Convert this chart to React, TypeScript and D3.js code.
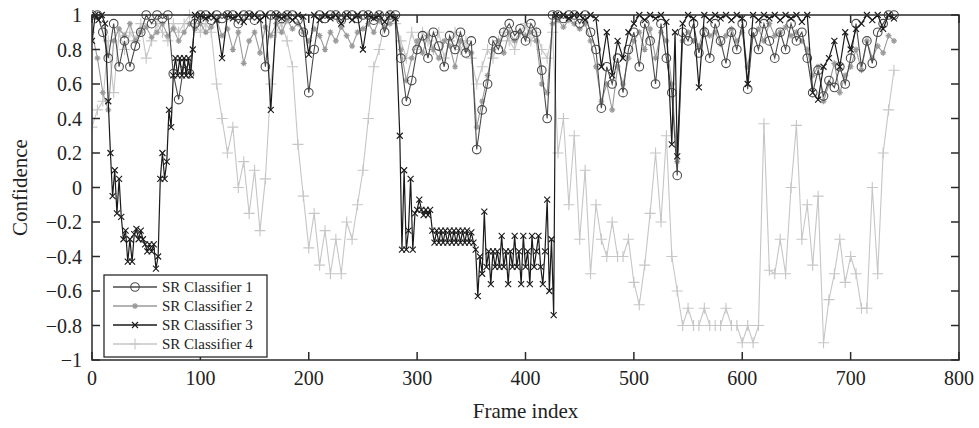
import React from "react";
import * as d3 from "d3";

// Frame indices (sampled every 5 frames) for classifiers 1, 2 and 4
const FRAMES: number[] = d3.range(0, 745, 5);

const S1 = [
  1, 1, 0.9, 0.75, 0.95, 0.7, 0.85, 0.7, 0.82, 0.9,
  1, 0.95, 1, 0.98, 1, 0.66, 0.51, 0.72, 0.66, 0.95,
  1, 1, 0.97, 1, 0.98, 1, 1, 0.95, 1, 1,
  0.97, 1, 0.7, 1, 1, 0.98, 1, 1, 0.97, 0.9,
  0.55, 0.8, 1, 0.98, 1, 1, 0.97, 1, 1, 0.98,
  1, 1, 0.97, 1, 0.9, 1, 1, 0.75, 0.5, 0.62,
  0.8, 0.88, 0.75, 0.9, 0.82, 0.7, 0.88, 0.8, 0.9, 0.78,
  0.85, 0.22, 0.45, 0.6, 0.85, 0.8, 0.9, 0.95, 0.88, 0.92,
  0.85, 0.95, 0.9, 0.68, 0.4, 1, 1, 0.98, 1, 1,
  0.95, 1, 0.9, 0.8, 0.46, 0.7, 0.6, 0.75, 0.55, 0.8,
  0.9, 0.7, 0.95, 0.85, 0.6, 0.95, 0.75, 0.55, 0.07, 0.9,
  0.85, 0.95, 0.78, 0.9, 0.75, 0.95, 0.85, 0.72, 0.9, 0.8,
  0.95, 0.57, 0.9, 0.8, 0.95, 0.85, 0.75, 0.9, 0.8, 0.95,
  0.85, 0.9, 0.75, 0.55, 0.68, 0.53, 0.62, 0.58, 0.7, 0.6,
  0.75, 0.95, 0.7, 0.85, 0.72, 0.9, 0.95, 1, 1,
];

const S2 = [
  0.9, 0.75, 0.55, 0.45, 0.85, 0.92, 0.88, 0.95, 0.85, 0.9,
  0.93, 0.87, 0.9, 0.95, 0.88, 0.92, 0.85, 0.9, 0.95, 0.92,
  0.95, 0.9, 0.93, 0.97, 0.88, 0.92, 0.8, 0.9, 0.72, 0.85,
  0.9, 0.78, 0.93, 0.88, 0.95, 0.9, 0.97, 0.92, 0.95, 0.9,
  0.85, 0.92, 0.88, 0.8, 0.9, 0.85, 0.93, 0.88, 0.82, 0.9,
  0.92, 0.95, 0.9, 0.97, 0.93, 0.95, 0.98, 0.8, 0.62, 0.75,
  0.85, 0.78, 0.88, 0.8, 0.75, 0.85, 0.82, 0.7, 0.85, 0.8,
  0.78, 0.35, 0.5, 0.65, 0.8, 0.85, 0.78, 0.9, 0.85, 0.9,
  0.88, 0.9, 0.85, 0.6, 0.55, 0.95, 0.97, 0.93, 0.97, 0.95,
  0.92, 0.95, 0.85, 0.7, 0.5, 0.6, 0.45, 0.7, 0.6, 0.75,
  0.85, 0.9, 0.8, 0.92, 0.75, 0.9, 0.85, 0.6, 0.15, 0.85,
  0.9, 0.85, 0.82, 0.92, 0.88, 0.9, 0.83, 0.88, 0.92, 0.85,
  0.9, 0.7, 0.88, 0.92, 0.85, 0.95, 0.88, 0.9, 0.93, 0.88,
  0.9, 0.85, 0.8, 0.65, 0.7, 0.5, 0.6, 0.72, 0.55, 0.65,
  0.7, 0.8, 0.68, 0.85, 0.75, 0.82, 0.78, 0.88, 0.85,
];

// Classifier 3 is read at its own, denser frame positions where it oscillates
const S3_FRAMES = [
  0, 3, 6, 9, 12, 15, 17, 19, 21, 23, 25, 27, 29, 31, 33, 35, 37, 39, 41, 43,
  45, 47, 49, 51, 53, 55, 57, 59, 61, 63, 65, 67, 69, 71, 73, 75, 77, 79, 81, 83,
  85, 87, 89, 91, 93, 95,
  100, 105, 110, 115, 120, 125, 130, 135, 140, 145,
  150, 155, 160, 165, 170, 175, 180, 185, 190, 195,
  200, 205, 210, 215, 220, 225, 230, 235, 240, 245,
  250, 255, 260, 265, 270, 275, 280,
  284, 286, 288, 290, 292, 294, 296, 298,
  300, 302, 304, 306, 308, 310, 312, 314, 316, 318, 320, 322, 324, 326, 328, 330,
  332, 334, 336, 338, 340, 342, 344, 346, 348, 350, 352, 354, 356, 358, 360, 362,
  364, 366, 368, 370, 372, 374, 376, 378, 380, 382, 384, 386, 388, 390, 392, 394,
  396, 398, 400, 402, 404, 406, 408, 410, 412, 414, 416, 418, 420, 422, 424, 426,
  428, 435, 440, 445, 450, 455, 460, 465, 470, 475, 480, 485, 490, 495,
  500, 505, 510, 515, 520, 525, 530, 535, 538, 540, 545,
  550, 555, 560, 565, 570, 575, 580, 585, 590, 595,
  600, 605, 610, 615, 620, 625, 630, 635, 640, 645,
  650, 655, 660, 665, 670, 675, 680, 685, 690, 695,
  700, 705, 710, 715, 720, 725, 730, 735, 740,
];

const S3 = [
  0.85, 1, 0.97, 1, 0.95, 0.5, 0.2, -0.05, 0.1, -0.15, 0.05, -0.17, -0.3, -0.25, -0.43, -0.3, -0.43, -0.27, -0.24, -0.3,
  -0.25, -0.3, -0.33, -0.37, -0.33, -0.37, -0.33, -0.47, -0.4, 0.05, 0.2, 0.05, 0.15, 0.45, 0.35, 0.65, 0.75, 0.65, 0.75, 0.65,
  0.75, 0.65, 0.75, 0.65, 0.8, 1,
  1, 0.98, 1, 0.97, 0.75, 1, 0.98, 1, 0.96, 1,
  1, 0.97, 1, 0.45, 1, 0.98, 1, 0.97, 1, 0.99,
  0.77, 1, 0.97, 1, 0.98, 1, 0.95, 1, 0.97, 1,
  0.8, 1, 0.98, 1, 0.96, 1, 0.98,
  0.3, -0.36, 0.1, -0.36, -0.25, 0.05, -0.36, -0.15,
  -0.13, -0.07, -0.13, -0.16, -0.13, -0.16, -0.13, -0.25, -0.32, -0.25, -0.32, -0.25, -0.32, -0.25, -0.32, -0.25,
  -0.32, -0.25, -0.32, -0.25, -0.32, -0.25, -0.32, -0.25, -0.32, -0.26, -0.32, -0.36, -0.63, -0.4, -0.5, -0.14,
  -0.46, -0.37, -0.56, -0.37, -0.46, -0.37, -0.46, -0.28, -0.46, -0.37, -0.56, -0.37, -0.46, -0.28, -0.46, -0.37,
  -0.56, -0.28, -0.46, -0.37, -0.56, -0.28, -0.46, -0.37, -0.28, -0.46, -0.56, -0.37, -0.07, -0.6, -0.3, -0.74,
  1, 1, 0.98, 1, 1, 0.97, 1, 0.98, 0.7, 0.9, 0.65, 0.85, 0.75, 0.9,
  0.95, 1, 0.97, 1, 0.98, 1, 0.96, 0.25, 0.9, 0.18, 0.95,
  1, 0.98, 0.58, 1, 0.97, 1, 0.98, 1, 0.97, 1,
  0.98, 0.6, 1, 0.97, 1, 0.98, 1, 0.97, 1, 0.98,
  1, 0.96, 1, 0.55, 0.51, 0.7, 0.75, 0.85, 0.7, 0.9,
  0.8, 0.92, 0.95, 1, 0.97, 1, 0.92, 1, 0.98,
];

const S4 = [
  0.35, 0.45, 0.5, 0.85, 0.55, 0.9, 0.8, 0.9, 0.85, 0.95,
  0.75, 0.85, 0.95, 0.9, 0.85, 0.95, 0.9, 0.95, 1, 0.95,
  0.9, 0.95, 0.9, 0.6, 0.4, 0.2, 0.35, 0.0, 0.15, -0.15,
  0.1, -0.25, 0.05, 0.6, 0.9, 0.95, 0.85, 0.7, 0.25, -0.05,
  -0.35, -0.15, -0.45, -0.25, -0.5, -0.3, -0.5, -0.2, -0.3, -0.1,
  0.1, 0.4, 0.7, 0.8, 0.95, 1, 0.95, 0.85, 0.75, 0.9,
  0.8, 0.9, 0.85, 0.8, 0.9, 0.75, 0.85, 0.9, 0.8, 0.85,
  0.75, 0.6, 0.7, 0.8, 0.75, 0.85, 0.9, 0.85, 0.8, 0.9,
  0.95, 0.85, 0.9, 0.8, 0.75, 0.9, 0.2, 0.4, -0.1, 0.3,
  -0.3, 0.1, -0.5, -0.1, -0.3, -0.4, -0.2, -0.4, -0.4, -0.3,
  -0.55, -0.68, -0.45, -0.15, 0.2, -0.2, 0.3, -0.4, -0.6, -0.8,
  -0.7, -0.8, -0.8, -0.7, -0.8, -0.8, -0.8, -0.7, -0.8, -0.8,
  -0.9, -0.8, -0.9, -0.8, 0.37, -0.48, -0.5, -0.3, -0.5, 0.0,
  0.36, -0.3, -0.1, -0.45, -0.05, -0.9, -0.65, -0.5, -0.3, -0.55,
  -0.4, -0.5, -0.7, -0.7, 0.0, -0.5, 0.2, 0.45, 0.68,
];

const SERIES_NAMES = ["SR Classifier 1", "SR Classifier 2", "SR Classifier 3", "SR Classifier 4"];
const X_TICKS = [0, 100, 200, 300, 400, 500, 600, 700, 800];
const X_TICK_LABELS = ["0", "100", "200", "300", "400", "500", "600", "700", "800"];
const Y_TICKS = [-1, -0.8, -0.6, -0.4, -0.2, 0, 0.2, 0.4, 0.6, 0.8, 1];
const Y_TICK_LABELS = ["\u22121", "\u22120.8", "\u22120.6", "\u22120.4", "\u22120.2", "0", "0.2", "0.4", "0.6", "0.8", "1"];

const FONT = "'Liberation Serif', 'Times New Roman', 'DejaVu Serif', serif";

type MarkerKind = "circle" | "star" | "x" | "plus";

function Marker({ kind, color, cx, cy }: { kind: MarkerKind; color: string; cx: number; cy: number }) {
  if (kind === "circle") {
    return <circle cx={cx} cy={cy} r={4.3} fill="none" stroke={color} strokeWidth={1.1} />;
  }
  if (kind === "x") {
    const s = 3;
    return (
      <path
        d={`M${cx - s},${cy - s}L${cx + s},${cy + s}M${cx - s},${cy + s}L${cx + s},${cy - s}`}
        stroke={color}
        strokeWidth={1.1}
        fill="none"
      />
    );
  }
  if (kind === "star") {
    const s = 3;
    return (
      <path
        d={`M${cx - s},${cy}L${cx + s},${cy}M${cx},${cy - s}L${cx},${cy + s}M${cx - 2},${cy - 2}L${cx + 2},${cy + 2}M${cx - 2},${cy + 2}L${cx + 2},${cy - 2}`}
        stroke={color}
        strokeWidth={1.2}
        fill="none"
      />
    );
  }
  const s = 5.5;
  return (
    <path
      d={`M${cx - s},${cy}L${cx + s},${cy}M${cx},${cy - s}L${cx},${cy + s}`}
      stroke={color}
      strokeWidth={1.1}
      fill="none"
    />
  );
}

export default function App() {
  const W = 979;
  const H = 428;
  const x = d3.scaleLinear().domain([0, 800]).range([92, 959]);
  const y = d3.scaleLinear().domain([-1, 1]).range([360, 15]);

  const series = [
    { name: SERIES_NAMES[3], frames: FRAMES, values: S4, color: "#c6c6c6", kind: "plus" as MarkerKind, lw: 1.1 },
    { name: SERIES_NAMES[1], frames: FRAMES, values: S2, color: "#9a9a9a", kind: "star" as MarkerKind, lw: 1.1 },
    { name: SERIES_NAMES[0], frames: FRAMES, values: S1, color: "#4a4a4a", kind: "circle" as MarkerKind, lw: 1.1 },
    { name: SERIES_NAMES[2], frames: S3_FRAMES, values: S3, color: "#1a1a1a", kind: "x" as MarkerKind, lw: 1.2 },
  ];

  const line = (frames: number[], vals: number[]) =>
    d3
      .line<number>()
      .x((_, i) => x(frames[i]))
      .y((d) => y(d))(vals) || "";

  const legendItems = [
    { name: SERIES_NAMES[0], color: "#4a4a4a", kind: "circle" as MarkerKind },
    { name: SERIES_NAMES[1], color: "#9a9a9a", kind: "star" as MarkerKind },
    { name: SERIES_NAMES[2], color: "#1a1a1a", kind: "x" as MarkerKind },
    { name: SERIES_NAMES[3], color: "#c6c6c6", kind: "plus" as MarkerKind },
  ];

  const [x0, x1] = x.range();
  const [yb, yt] = y.range();
  const tickLen = 8;
  const axisColor = "#2a2a2a";

  return (
    <svg
      width={W}
      height={H}
      style={{ position: "absolute", left: 0, top: 0, background: "#fff" }}
      fontFamily={FONT}
    >
      <rect x={0} y={0} width={W} height={H} fill="#fff" />
      <defs>
        <clipPath id="plotclip">
          <rect x={x0} y={yt - 6} width={x1 - x0} height={yb - yt + 6} />
        </clipPath>
      </defs>
      <g clipPath="url(#plotclip)">
        {series.map((s) => (
          <g key={s.name}>
            <path d={line(s.frames, s.values)} fill="none" stroke={s.color} strokeWidth={s.lw} />
            {s.values.map((v, i) => (
              <Marker key={i} kind={s.kind} color={s.color} cx={x(s.frames[i])} cy={y(v)} />
            ))}
          </g>
        ))}
      </g>

      <rect x={x0} y={yt} width={x1 - x0} height={yb - yt} fill="none" stroke={axisColor} strokeWidth={1.5} />
      {X_TICKS.map((t, i) => (
        <g key={"xt" + t}>
          <line x1={x(t)} x2={x(t)} y1={yb} y2={yb - tickLen} stroke={axisColor} strokeWidth={1.5} />
          <line x1={x(t)} x2={x(t)} y1={yt} y2={yt + tickLen} stroke={axisColor} strokeWidth={1.5} />
          <text x={x(t)} y={yb + 25} textAnchor="middle" fontSize={20} fill="#222">
            {X_TICK_LABELS[i]}
          </text>
        </g>
      ))}
      {Y_TICKS.map((t, i) => (
        <g key={"yt" + t}>
          <line x1={x0} x2={x0 + tickLen} y1={y(t)} y2={y(t)} stroke={axisColor} strokeWidth={1.5} />
          <line x1={x1} x2={x1 - tickLen} y1={y(t)} y2={y(t)} stroke={axisColor} strokeWidth={1.5} />
          <text x={x0 - 10} y={y(t) + 7} textAnchor="end" fontSize={20} fill="#222">
            {Y_TICK_LABELS[i]}
          </text>
        </g>
      ))}

      <text x={(x0 + x1) / 2} y={418} textAnchor="middle" fontSize={21} fill="#222">
        Frame index
      </text>
      <text
        transform={`translate(27, ${(yt + yb) / 2}) rotate(-90)`}
        textAnchor="middle"
        fontSize={21}
        fill="#222"
      >
        Confidence
      </text>

      <g>
        <rect x={104} y={275} width={163} height={82} fill="#fff" stroke={axisColor} strokeWidth={1.3} />
        {legendItems.map((it, i) => {
          const ly = 287 + i * 19;
          return (
            <g key={it.name}>
              <line x1={113} x2={157} y1={ly} y2={ly} stroke={it.color} strokeWidth={1.3} />
              <Marker kind={it.kind} color={it.color} cx={135} cy={ly} />
              <text x={162} y={ly + 5} fontSize={15} fill="#222">
                {it.name}
              </text>
            </g>
          );
        })}
      </g>
    </svg>
  );
}
